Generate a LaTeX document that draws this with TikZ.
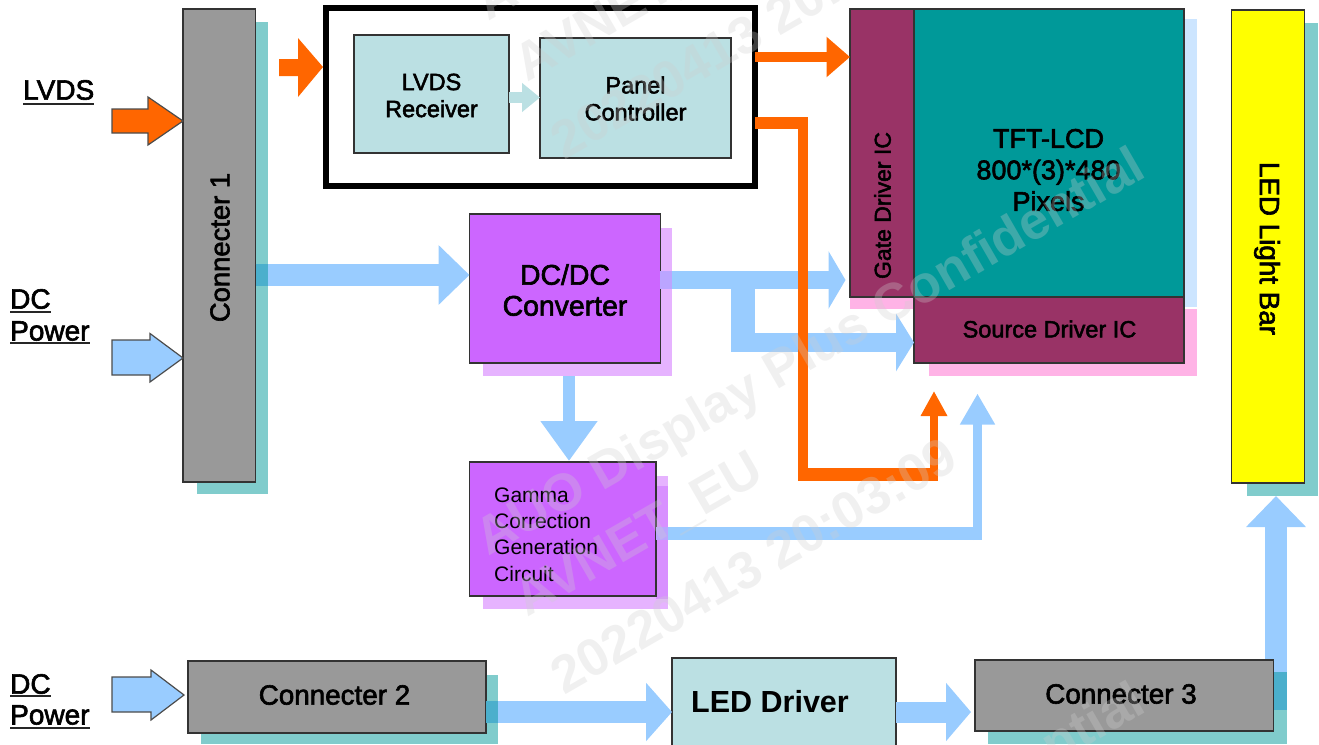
\documentclass[tikz,border=0pt]{standalone}
\usepackage{fontspec}
\setmainfont{Liberation Sans}
\newfontfamily\lab[FakeBold=2.2]{Liberation Sans}
\usetikzlibrary{arrows.meta,calc}
\definecolor{cGrey}{HTML}{999999}
\definecolor{cTeal}{HTML}{80CCCC}
\definecolor{cPale}{HTML}{BBE0E3}
\definecolor{cViolet}{HTML}{CC66FF}
\definecolor{cVioletS}{HTML}{E6B3FF}
\definecolor{cVioletD}{HTML}{D890FF}
\definecolor{cPlum}{HTML}{993366}
\definecolor{cLcd}{HTML}{009999}
\definecolor{cSky}{HTML}{99CCFF}
\definecolor{cSkyS}{HTML}{CCE5FF}
\definecolor{cPink}{HTML}{FFB3E6}
\definecolor{cOrange}{HTML}{FF6600}
\definecolor{cOverA}{HTML}{4BAFCC}
\definecolor{cOverB}{HTML}{BBA5FF}
\definecolor{cWm}{RGB}{206,206,206}
\definecolor{cBar}{HTML}{FFFF00}
\tikzset{
  x=1pt,y=-1pt,
  box/.style={draw=black!80,line width=1.3pt,inner sep=0pt,outer sep=0pt,anchor=north west},
  txt/.style={inner sep=0pt,text=black,align=center},
  t23/.style={txt,font=\lab\fontsize{23.5}{27}\selectfont},
  t27/.style={txt,font=\lab\fontsize{27}{31.5}\selectfont},
  t28/.style={txt,font=\lab\fontsize{27.8}{28}\selectfont},
  inlet/.style={draw=black!70,line width=1.2pt,line join=miter},
  sky/.style={draw=cSky,line join=miter},
  ora/.style={draw=cOrange,line join=miter},
  wm/.style={anchor=west,rotate=30,inner sep=0pt,text=cWm,text opacity=.3,font=\bfseries\fontsize{52.5}{52.5}\selectfont},
}
\newcommand{\lbl}[3]{\node[txt,anchor=west,font=\lab\fontsize{28}{28}\selectfont] (#1) at (#2) {#3};}
\begin{document}
\begin{tikzpicture}
\useasboundingbox (0,0) rectangle (1319,744);
% shadows
\fill[cTeal] (197,22) rectangle (268,494);
\fill[cVioletS] (483,228) rectangle (672,376);
\fill[cVioletS] (483,476) rectangle (668,609);
\fill[cVioletD] (656,486) rectangle (668,599);
\fill[cSkyS] (1185,19) rectangle (1197,307);
\fill[cPink] (850,297) rectangle (914,309);
\fill[cPink] (1184,309) rectangle (1197,376);
\fill[cPink] (929,362) rectangle (1197,376);
\fill[cTeal] (1247,23) rectangle (1318,496);
\fill[cTeal] (201,675) rectangle (498,744);
\fill[cTeal] (988,672) rectangle (1287,744);
% boxes
\node[box,fill=cGrey,minimum width=72.5pt,minimum height=473pt] (conn1) at (183,9) {};
\node[box,fill=white,draw=black,line width=6pt,minimum width=429pt,minimum height=178pt] (frame) at (326,8) {};
\node[box,fill=cPale,minimum width=155pt,minimum height=118pt] (recv) at (354,35) {};
\node[box,fill=cPale,minimum width=191pt,minimum height=120pt] (ctrl) at (540,38) {};
\node[box,fill=cViolet,minimum width=191pt,minimum height=149pt] (dcdc) at (469.5,214) {};
\node[box,fill=cViolet,minimum width=186.5pt,minimum height=134pt] (gamma) at (469.5,462) {};
\node[box,fill=cPlum,minimum width=64pt,minimum height=288pt] (gate) at (850,9) {};
\node[box,fill=cLcd,minimum width=270pt,minimum height=288pt] (lcd) at (914,9) {};
\node[box,fill=cPlum,minimum width=270pt,minimum height=66pt] (source) at (914,297) {};
\node[box,fill=cBar,minimum width=73pt,minimum height=473pt] (bar) at (1231.5,10) {};
\node[box,fill=cGrey,minimum width=298pt,minimum height=72pt] (conn2) at (188,661) {};
\node[box,fill=cPale,minimum width=224pt,minimum height=90pt] (driver) at (672,658) {};
% connectors
\coordinate (lvdsTip) at (conn1.west |- 0,121);
\coordinate (dcTip) at (conn1.west |- 0,358);
\coordinate (dc2Tip) at ([xshift=-4pt]conn2.west |- 0,695);
\coordinate (frameIn) at (frame.west |- 0,67);
\coordinate (oraStart) at (279,67);
\draw[inlet,fill=cOrange] (lvdsTip) -- ++(-35,-24) -- ++(0,12) -- ++(-36,0) -- ++(0,24) -- ++(36,0) -- ++(0,12) -- cycle;
\draw[inlet,fill=cSky] (dcTip) -- ++(-33,-24.5) -- ++(0,6.5) -- ++(-38,0) -- ++(0,35) -- ++(38,0) -- ++(0,7) -- cycle;
\draw[inlet,fill=cSky] (dc2Tip) -- ++(-33,-25) -- ++(0,7) -- ++(-39,0) -- ++(0,35) -- ++(39,0) -- ++(0,8) -- cycle;
\fill[cOrange] ([xshift=-3pt]frameIn) -- ++(-25,-29) -- ++(0,21) -- (oraStart |- 0,59) -- (oraStart |- 0,76) -- (298,76) -- (298,97) -- cycle;
\draw[draw=cPale,line width=11pt,-{Triangle[length=18pt,width=28pt]}] (recv.east |- 0,97.5) -- (ctrl.west |- 0,97.5);
\draw[sky,line width=22pt,-{Triangle[length=31pt,width=58pt]}] (conn1.east |- 0,275) -- (dcdc.west |- 0,275);
\draw[sky,line width=18.5pt,-{Triangle[length=17pt,width=57pt]}] (dcdc.east |- 0,280) -- (845.5,280);
\draw[sky,line width=24pt] (743,280) -- (743,352);
\draw[sky,line width=19.5pt,-{Triangle[length=18pt,width=57pt]}] (731,342.5) -- (source.west |- 0,342.5);
\draw[sky,line width=12.5pt,-{Triangle[length=40pt,width=54.5pt]}] (569,376) -- (569,461);
\draw[sky,line width=13pt] (gamma.east |- 0,533.5) -- (982,533.5);
\draw[sky,line width=9pt,-{Triangle[length=31pt,width=33pt]}] (977.5,540) -- (977.5,393.5);
\draw[sky,line width=22pt,-{Triangle[length=26pt,width=57pt]}] (conn2.east |- 0,712) -- (driver.west |- 0,712);
\draw[sky,line width=21pt,-{Triangle[length=25pt,width=57pt]}] (driver.east |- 0,712) -- (971,712);
\draw[sky,line width=22pt,-{Triangle[length=31pt,width=58pt]}] (1276,710) -- (1276,496);
\draw[ora,line width=10pt,-{Triangle[length=23.5pt,width=39pt]}] (frame.east |- 0,57) -- (gate.west |- 0,57);
\draw[ora,line width=12pt] (frame.east |- 0,123) -- (808,123);
\draw[ora,line width=10pt] (803,117) -- (803,481);
\draw[ora,line width=13pt] (798,474.5) -- (938,474.5);
\draw[ora,line width=8pt,-{Triangle[length=25pt,width=25pt]}] (934,481) -- (934,391);
% overlaps with the shadows
\fill[cOverA] (256,264) rectangle (268,286);
\fill[cOverA] (486,701) rectangle (498,723);
\fill[cOverA] (1265,672) rectangle (1287,710);
\fill[cOverB] (660,271) rectangle (672,289);
\fill[cOverB] (656,527) rectangle (668,540);
\node[box,fill=cGrey,minimum width=298.5pt,minimum height=71pt] (conn3) at (975,660) {};
% labels
\node[txt,font=\lab\fontsize{27.4}{27.4}\selectfont,rotate=90] (conn1t) at (220,247.5) {Connecter 1};
\node[t23] (recvt) at (431.5,95.5) {LVDS\\Receiver};
\node[t23] (ctrlt) at (635.5,98.5) {Panel\\Controller};
\node[txt,font=\lab\fontsize{28.4}{31}\selectfont] (dcdct) at (565,290) {DC/DC\\Converter};
\node[txt,font=\fontsize{21}{26.3}\selectfont,align=left,anchor=west] (gammat) at (494,534.5) {Gamma\\Correction\\Generation\\Circuit};
\node[txt,font=\lab\fontsize{23}{23}\selectfont,rotate=90] (gatet) at (882.5,205.5) {Gate Driver IC};
\node[t27] (lcdt) at (1048.5,170) {TFT-LCD\\800*(3)*480\\Pixels};
\node[t23] (sourcet) at (1049.5,329) {Source Driver IC};
\node[t28,rotate=-90] (bart) at (1267,248.5) {LED Light Bar};
\node[t28] (conn2t) at (334.5,695) {Connecter 2};
\node[txt,font=\bfseries\fontsize{30.5}{30.5}\selectfont] (drivert) at (770,702) {LED Driver};
\node[t28] (conn3t) at (1121,694) {Connecter 3};
\lbl{lvdsl}{23,90}{LVDS}
\lbl{dcl}{10,299}{DC}
\lbl{pwl}{10,331}{Power}
\lbl{dcm}{10,684}{DC}
\lbl{pwm}{10,715}{Power}
\draw[black!85,line width=1.6pt] (lvdsl.west |- 0,104) -- (lvdsl.east |- 0,104);
\draw[black!85,line width=1.6pt] (dcl.west |- 0,312) -- (dcl.east |- 0,312);
\draw[black!85,line width=1.6pt] (pwl.west |- 0,343) -- (pwl.east |- 0,343);
\draw[black!85,line width=1.6pt] (dcm.west |- 0,696) -- (dcm.east |- 0,696);
\draw[black!85,line width=1.6pt] (pwm.west |- 0,728) -- (pwm.east |- 0,728);
% watermark
\begin{scope}
\clip (0,0) rectangle (1319,744);
\node[wm] (w1) at (482,545) {AUO Display Plus Confidential};
\node[wm] (w2) at (520,605) {AVNET\_EU};
\node[wm] (w3) at (555,680) {20220413 20:03:09};
\node[wm] (w4) at (482,10) {AUO Display Plus Confidential};
\node[wm] (w5) at (520,70) {AVNET\_EU};
\node[wm] (w6) at (555,145) {20220413 20:03:09};
\node[wm] (w7) at (482,1080) {AUO Display Plus Confidential};
\end{scope}
\end{tikzpicture}
\end{document}
